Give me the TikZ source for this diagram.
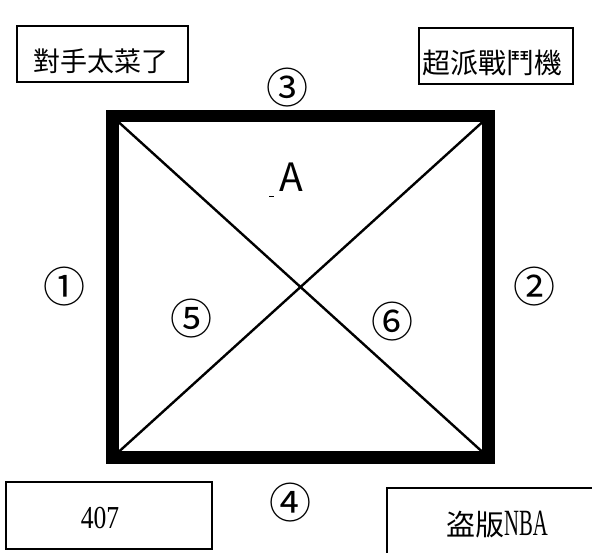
\documentclass[tikz,border=0pt]{standalone}
\usepackage{fontspec}
\newfontfamily\cjk{Noto Sans CJK TC}
\newfontfamily\narrowserif[FakeStretch=0.8]{Liberation Serif}
\newfontfamily\nbaserif[FakeStretch=0.56]{Liberation Serif}
\begin{document}
\begin{tikzpicture}[x=1pt,y=-1pt,
  labelbox/.style={draw=black,line width=1.6pt,inner sep=0pt},
  cnum/.style={font=\cjk\fontsize{42}{42}\selectfont,inner sep=0pt},
  diag/.style={line width=2.4pt},
  frame/.style={line width=12.5pt,line join=miter}]
\useasboundingbox[fill=white] (0,0) rectangle (592,552);
% boxes
\node[labelbox,minimum width=171pt,minimum height=56pt] (b1) at (102.5,54) {};
\node[font=\cjk\fontsize{27}{27}\selectfont,inner sep=0pt] (t1) at (101,61) {對手太菜了};
\node[labelbox,minimum width=154pt,minimum height=56pt] (b2) at (496,56) {};
\node[font=\cjk\fontsize{28}{28}\selectfont,inner sep=0pt] (t2) at (492,63) {超派戰鬥機};
\node[labelbox,minimum width=206pt,minimum height=67pt] (b3) at (109,515.5) {};
\node[font=\narrowserif\fontsize{32}{32}\selectfont,inner sep=0pt] (t3) at (100,518) {407};
\coordinate (b4a) at (387,556);
\coordinate (b4b) at (387,488);
\coordinate (b4c) at (596,488);
\draw[line width=1.6pt] (b4a) -- (b4b) -- (b4c);
\node[inner sep=0pt] (t4) at (497,525) {{\cjk\fontsize{29}{29}\selectfont 盗版}{\nbaserif\fontsize{37}{37}\selectfont NBA}};
% square
\coordinate (o1) at (112.5,116);
\coordinate (o2) at (488.5,116);
\coordinate (o3) at (488.5,457.5);
\coordinate (o4) at (112.5,457.5);
\draw[frame] (o1) -- (o2) -- (o3) -- (o4) -- cycle;
\coordinate (i1) at (118.5,122);
\coordinate (i2) at (482.5,122);
\coordinate (i3) at (482.5,452);
\coordinate (i4) at (118.5,452);
\draw[diag] (i1) -- (i3);
\draw[diag] (i2) -- (i4);
% labels
\node[font=\cjk\fontsize{39}{39}\selectfont,inner sep=0pt] (A) at (291,177) {A};
\coordinate (d1) at (269,196);
\coordinate (d2) at (274,196);
\draw[line width=1pt] (d1) -- (d2);
\node[cnum] (n1) at (64,287) {①};
\node[cnum] (n2) at (534,287) {②};
\node[cnum] (n3) at (287,88) {③};
\node[cnum] (n4) at (290,503) {④};
\node[cnum] (n5) at (191,319) {⑤};
\node[cnum] (n6) at (392,322) {⑥};
\end{tikzpicture}
\end{document}
